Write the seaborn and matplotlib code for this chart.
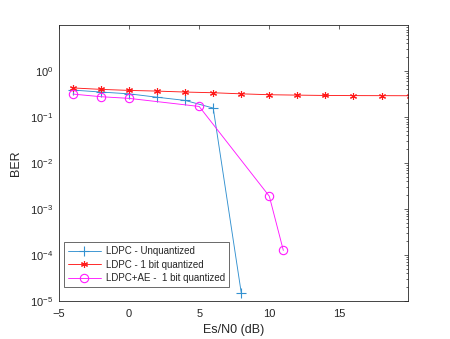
import matplotlib
matplotlib.use("Agg")
import matplotlib.pyplot as plt
import seaborn as sns
import numpy as np
import pandas as pd
from matplotlib.ticker import LogLocator, NullFormatter, FixedLocator

sns.set_theme(style="white")
plt.rcParams['font.family'] = ['Liberation Sans', 'DejaVu Sans']

x_unq = [-4, -2, 0, 2, 4, 6, 8]
ber_unq = [0.386, 0.35, 0.32, 0.27, 0.23, 0.157, 1.5e-5]
x_1bit = [-4, -2, 0, 2, 4, 6, 8, 10, 12, 14, 16, 18, 20]
ber_1bit = [0.43, 0.40, 0.38, 0.367, 0.35, 0.338, 0.32, 0.306, 0.30, 0.295, 0.293, 0.292, 0.291]
x_ae = [-4, -2, 0, 5, 10, 11]
ber_ae = [0.316, 0.277, 0.255, 0.17, 1.9e-3, 1.26e-4]
labels = ["LDPC - Unquantized", "LDPC - 1 bit quantized", "LDPC+AE -  1 bit quantized"]
xticks = [-5, 0, 5, 10, 15]

fig = plt.figure(figsize=(4.5, 3.39), dpi=100)
ax = fig.add_axes([0.131, 0.112, 0.776, 0.814])

series = [
    (x_unq, ber_unq, "#3391d0", "+", 7, "#3391d0", labels[0]),
    (x_1bit, ber_1bit, "#ff1a1a", (6, 2, 0), 5, "#ff1a1a", labels[1]),
    (x_ae, ber_ae, "#ff1aff", "o", 6, "none", labels[2]),
]
my_lines = []
for xs, ys, col, mk, ms, mfc, lab in series:
    df = pd.DataFrame({"x": xs, "y": ys})
    n_before = len(ax.lines)
    sns.lineplot(data=df, x="x", y="y", ax=ax, color=col, label=lab, sort=False,
                 estimator=None)
    ln = ax.lines[n_before]
    ln.set_color(col)
    ln.set_linestyle("-")
    ln.set_linewidth(0.65)
    ln.set_marker(mk)
    ln.set_markersize(ms)
    ln.set_markeredgecolor(col)
    ln.set_markerfacecolor(mfc)
    ln.set_markeredgewidth(0.8)
    my_lines.append(ln)

ax.set_yscale("log")
ax.set_ylim(1e-5, 1e1)
ax.set_xlim(-5, 19.9)
ax.xaxis.set_major_locator(FixedLocator(xticks))
ax.yaxis.set_major_locator(FixedLocator([1e-5, 1e-4, 1e-3, 1e-2, 1e-1, 1e0]))
ax.yaxis.set_minor_locator(LogLocator(base=10, subs=np.arange(2, 10)))
ax.yaxis.set_minor_formatter(NullFormatter())
ax.tick_params(axis="both", which="both", direction="in", top=True, right=True,
               labelsize=8, colors="#262626", width=0.5)
ax.tick_params(axis="both", which="major", length=3)
ax.tick_params(axis="x", which="major", pad=6)
ax.tick_params(axis="y", which="major", pad=4)
ax.tick_params(axis="y", which="minor", length=1.8)
ax.set_xlabel("Es/N0 (dB)", fontsize=9, color="#262626", labelpad=3)
ax.set_ylabel("BER", fontsize=9, color="#262626", labelpad=6)
for s in ax.spines.values():
    s.set_color("#262626")
    s.set_linewidth(0.6)

leg = ax.legend(handles=my_lines, labels=labels, loc="lower left",
                bbox_to_anchor=(5 / 349, 14 / 276), borderaxespad=0,
                fontsize=7, frameon=True, fancybox=False,
                edgecolor="#262626", borderpad=0.4, handlelength=3.4,
                labelspacing=0.35, handletextpad=0.5)
leg.get_frame().set_linewidth(0.6)

fig.savefig("out.png", dpi=100)
